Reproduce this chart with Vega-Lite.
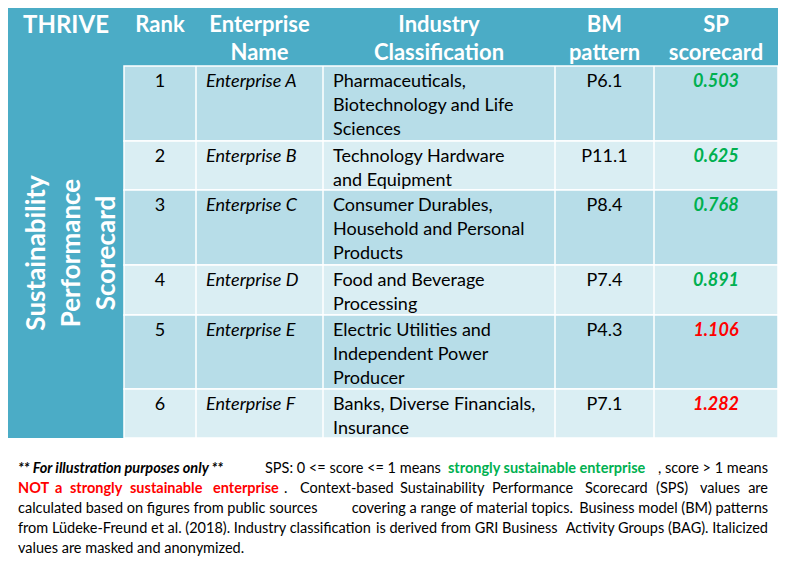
{
  "$schema": "https://vega.github.io/schema/vega-lite/v6.json",
  "width": 790,
  "height": 565,
  "autosize": {"type": "none"},
  "padding": 0,
  "background": "white",
  "config": {
    "view": {"stroke": null},
    "axis": {"disable": true},
    "legend": {"disable": true},
    "text": {"font": "Lato"}
  },
  "datasets": {
    "rows": [
      {"rank": 1, "name": "Enterprise A", "industry": "Pharmaceuticals,\nBiotechnology and Life\nSciences", "bm": "P6.1", "sp": 0.503},
      {"rank": 2, "name": "Enterprise B", "industry": "Technology Hardware\nand Equipment", "bm": "P11.1", "sp": 0.625},
      {"rank": 3, "name": "Enterprise C", "industry": "Consumer Durables,\nHousehold and Personal\nProducts", "bm": "P8.4", "sp": 0.768},
      {"rank": 4, "name": "Enterprise D", "industry": "Food and Beverage\nProcessing", "bm": "P7.4", "sp": 0.891},
      {"rank": 5, "name": "Enterprise E", "industry": "Electric Utilities and\nIndependent Power\nProducer", "bm": "P4.3", "sp": 1.106},
      {"rank": 6, "name": "Enterprise F", "industry": "Banks, Diverse Financials,\nInsurance", "bm": "P7.1", "sp": 1.282}
    ],
    "headers": [
      {"label": "Rank", "col": 1},
      {"label": "Enterprise\nName", "col": 2},
      {"label": "Industry\nClassification", "col": 3},
      {"label": "BM\npattern", "col": 4},
      {"label": "SP\nscorecard", "col": 5}
    ],
    "footer": [
      {"line": 1, "start": 0, "text": "** For illustration purposes only **", "kind": "note"},
      {"line": 1, "start": 0.3293, "text": "SPS: 0 <= score <= 1 means", "kind": "body"},
      {"line": 1, "start": 0.5733, "text": "strongly sustainable enterprise", "kind": "good"},
      {"line": 1, "start": 1, "text": ", score > 1 means", "kind": "bodyEnd"},
      {"line": 2, "start": 0, "text": "NOT", "kind": "bad"},
      {"line": 2, "start": 0.0493, "text": "a", "kind": "bad"},
      {"line": 2, "start": 0.0693, "text": "strongly", "kind": "bad"},
      {"line": 2, "start": 0.1493, "text": "sustainable", "kind": "bad"},
      {"line": 2, "start": 0.26, "text": "enterprise", "kind": "bad"},
      {"line": 2, "start": 0.3547, "text": ".", "kind": "body"},
      {"line": 2, "start": 0.376, "text": "Context-based", "kind": "body"},
      {"line": 2, "start": 0.5093, "text": "Sustainability", "kind": "body"},
      {"line": 2, "start": 0.632, "text": "Performance", "kind": "body"},
      {"line": 2, "start": 0.756, "text": "Scorecard", "kind": "body"},
      {"line": 2, "start": 0.8507, "text": "(SPS)", "kind": "body"},
      {"line": 2, "start": 0.9093, "text": "values", "kind": "body"},
      {"line": 2, "start": 1, "text": "are", "kind": "bodyEnd"},
      {"line": 3, "start": 0, "text": "calculated based on figures from public sources", "kind": "body"},
      {"line": 3, "start": 0.445, "text": "covering a range of material topics.", "kind": "body"},
      {"line": 3, "start": 1, "text": "Business model (BM) patterns", "kind": "bodyEnd"},
      {"line": 4, "start": 0, "text": "from Lüdeke-Freund et al. (2018). Industry classification", "kind": "body"},
      {"line": 4, "start": 0.4773, "text": "is derived from GRI Business", "kind": "body"},
      {"line": 4, "start": 1, "text": "Activity Groups (BAG). Italicized", "kind": "bodyEnd"},
      {"line": 5, "start": 0, "text": "values are masked and anonymized.", "kind": "body"}
    ]
  },
  "layer": [
    {
      "layer": [
        {
          "data": {"values": [{"part": "header"}]},
          "mark": {"type": "rect", "fill": "#4BACC6"},
          "encoding": {
            "x": {"datum": 0, "type": "quantitative", "scale": {"type": "linear", "domain": [0, 1, 2, 3, 4, 5, 6], "range": [8, 124, 196, 323, 555, 654, 778], "zero": false, "nice": false}},
            "x2": {"datum": 6},
            "y": {"datum": 0, "type": "quantitative", "scale": {"type": "linear", "domain": [0, 1, 2, 3, 4, 5, 6, 7], "range": [8, 66, 141, 190, 265, 315, 389, 438], "zero": false, "nice": false}},
            "y2": {"datum": 1}
          }
        },
        {
          "data": {"values": [{"part": "sidebar"}]},
          "mark": {"type": "rect", "fill": "#4BACC6"},
          "encoding": {
            "x": {"datum": 0, "type": "quantitative"},
            "x2": {"datum": 1},
            "y": {"datum": 1, "type": "quantitative"},
            "y2": {"datum": 7}
          }
        },
        {
          "data": {"name": "rows"},
          "transform": [
            {"calculate": "datum.rank + 1", "as": "rankEnd"},
            {"calculate": "datum.rank % 2", "as": "band"}
          ],
          "mark": {"type": "rect", "stroke": "white", "strokeWidth": 1.5},
          "encoding": {
            "x": {"datum": 1, "type": "quantitative"},
            "x2": {"datum": 6},
            "y": {"field": "rank", "type": "quantitative"},
            "y2": {"field": "rankEnd"},
            "color": {"field": "band", "type": "nominal", "scale": {"domain": [1, 0], "range": ["#B7DDE8", "#DAEEF3"]}}
          }
        },
        {
          "data": {"values": [{"b": 2}, {"b": 3}, {"b": 4}, {"b": 5}]},
          "mark": {"type": "rule", "stroke": "white", "strokeWidth": 1.5},
          "encoding": {
            "x": {"field": "b", "type": "quantitative"},
            "y": {"datum": 1, "type": "quantitative"},
            "y2": {"datum": 7}
          }
        },
        {
          "data": {"values": [{"label": "THRIVE"}]},
          "mark": {"type": "text", "fontSize": 24, "fontWeight": "bold", "fill": "white", "align": "center", "baseline": "alphabetic", "dy": 25},
          "encoding": {
            "x": {"datum": 0.5, "type": "quantitative"},
            "y": {"datum": 0, "type": "quantitative"},
            "text": {"field": "label"}
          }
        },
        {
          "data": {"name": "headers"},
          "transform": [{"calculate": "datum.col + 0.5", "as": "mid"}],
          "mark": {"type": "text", "fontSize": 22, "fontWeight": "bold", "fill": "white", "align": "center", "baseline": "alphabetic", "dy": 24, "lineHeight": 28, "lineBreak": "\n"},
          "encoding": {
            "x": {"field": "mid", "type": "quantitative"},
            "y": {"datum": 0, "type": "quantitative"},
            "text": {"field": "label"}
          }
        },
        {
          "data": {"values": [{"label": "Sustainability\nPerformance\nScorecard"}]},
          "mark": {"type": "text", "fontSize": 26, "fontWeight": "bold", "fill": "white", "align": "center", "baseline": "middle", "angle": 270, "lineHeight": 35, "lineBreak": "\n"},
          "encoding": {
            "x": {"datum": 0.25, "type": "quantitative"},
            "y": {"datum": 3.84, "type": "quantitative"},
            "text": {"field": "label"}
          }
        },
        {
          "data": {"name": "rows"},
          "mark": {"type": "text", "fontSize": 18, "fill": "black", "align": "center", "baseline": "alphabetic", "dy": 21},
          "encoding": {
            "x": {"datum": 1.5, "type": "quantitative"},
            "y": {"field": "rank", "type": "quantitative"},
            "text": {"field": "rank", "type": "nominal"}
          }
        },
        {
          "data": {"name": "rows"},
          "mark": {"type": "text", "fontSize": 18, "fontStyle": "italic", "fill": "black", "align": "left", "baseline": "alphabetic", "dx": 10, "dy": 21},
          "encoding": {
            "x": {"datum": 2, "type": "quantitative"},
            "y": {"field": "rank", "type": "quantitative"},
            "text": {"field": "name"}
          }
        },
        {
          "data": {"name": "rows"},
          "mark": {"type": "text", "fontSize": 18, "fill": "black", "align": "left", "baseline": "alphabetic", "dx": 10, "dy": 21, "lineHeight": 24, "lineBreak": "\n"},
          "encoding": {
            "x": {"datum": 3, "type": "quantitative"},
            "y": {"field": "rank", "type": "quantitative"},
            "text": {"field": "industry"}
          }
        },
        {
          "data": {"name": "rows"},
          "mark": {"type": "text", "fontSize": 18, "fill": "black", "align": "center", "baseline": "alphabetic", "dy": 21},
          "encoding": {
            "x": {"datum": 4.5, "type": "quantitative"},
            "y": {"field": "rank", "type": "quantitative"},
            "text": {"field": "bm"}
          }
        },
        {
          "data": {"name": "rows"},
          "mark": {"type": "text", "fontSize": 18, "fontWeight": "bold", "fontStyle": "italic", "align": "center", "baseline": "alphabetic", "dy": 21},
          "encoding": {
            "x": {"datum": 5.5, "type": "quantitative"},
            "y": {"field": "rank", "type": "quantitative"},
            "text": {"field": "sp", "type": "quantitative", "format": ".3f"},
            "color": {"condition": {"test": "datum.sp <= 1", "value": "#00B050"}, "value": "#FF0000"}
          }
        }
      ]
    },
    {
      "data": {"name": "footer"},
      "encoding": {
        "x": {"field": "start", "type": "quantitative", "scale": {"type": "linear", "domain": [0, 1], "range": [18, 768], "zero": false, "nice": false}},
        "y": {"field": "line", "type": "quantitative", "scale": {"type": "linear", "domain": [1, 5], "range": [473, 553], "zero": false, "nice": false}},
        "text": {"field": "text"}
      },
      "layer": [
        {
          "transform": [{"filter": "datum.kind === 'note'"}],
          "mark": {"type": "text", "fontSize": 14.5, "fontWeight": "bold", "fontStyle": "italic", "fill": "black", "align": "left", "baseline": "alphabetic"}
        },
        {
          "transform": [{"filter": "datum.kind === 'body'"}],
          "mark": {"type": "text", "fontSize": 14.5, "fill": "black", "align": "left", "baseline": "alphabetic"}
        },
        {
          "transform": [{"filter": "datum.kind === 'bodyEnd'"}],
          "mark": {"type": "text", "fontSize": 14.5, "fill": "black", "align": "right", "baseline": "alphabetic"}
        },
        {
          "transform": [{"filter": "datum.kind === 'good'"}],
          "mark": {"type": "text", "fontSize": 14.5, "fontWeight": "bold", "fill": "#00B050", "align": "left", "baseline": "alphabetic"}
        },
        {
          "transform": [{"filter": "datum.kind === 'bad'"}],
          "mark": {"type": "text", "fontSize": 14.5, "fontWeight": "bold", "fill": "#FF0000", "align": "left", "baseline": "alphabetic"}
        }
      ]
    }
  ],
  "resolve": {"scale": {"x": "independent", "y": "independent"}}
}
